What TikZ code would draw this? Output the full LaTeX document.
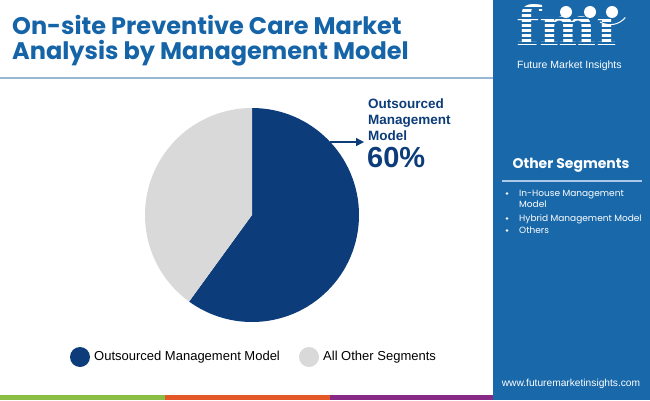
\documentclass[tikz,border=0pt]{standalone}
\usepackage{fontspec}
\usepackage{xcolor}
\usepackage{tikz}
\usetikzlibrary{arrows.meta}
\setmainfont{Liberation Sans}
\newfontfamily\popfont{Poppins}
\newfontfamily\logofont{DejaVu Serif}
\definecolor{fmiblue}{RGB}{24,104,170}
\definecolor{titleblue}{RGB}{22,100,168}
\definecolor{slicedark}{RGB}{12,61,122}
\definecolor{slicegray}{RGB}{217,217,217}
\definecolor{rulegray}{RGB}{150,182,210}
\definecolor{barlight}{RGB}{170,200,232}
\definecolor{stripgreen}{RGB}{139,190,68}
\definecolor{striporange}{RGB}{228,88,40}
\definecolor{strippurple}{RGB}{134,42,134}
\begin{document}
\begin{tikzpicture}[x=1pt,y=1pt]
\useasboundingbox (0,0) rectangle (650,400);
\fill[white] (0,0) rectangle (650,400);
\fill[fmiblue] (493,0) rectangle (650,400);
\fill[stripgreen] (0,0) rectangle (165,5);
\fill[striporange] (165,0) rectangle (330,5);
\fill[strippurple] (330,0) rectangle (493,5);
\draw[rulegray,line width=1.5pt] (0,322) -- (493,322);
\node[anchor=base west,inner sep=0,text=titleblue,font=\popfont\bfseries\fontsize{24}{28}\selectfont] (title1) at (12,366) {On-site Preventive Care Market};
\node[anchor=base west,inner sep=0,text=titleblue,font=\popfont\bfseries\fontsize{24}{28}\selectfont] (title2) at (12,341) {Analysis by Management Model};
\coordinate (c) at (252,185);
\fill[slicedark] (c) -- ++(90:107) arc[start angle=90,end angle=-126,radius=107] -- cycle;
\fill[slicegray] (c) -- ++(-126:107) arc[start angle=-126,end angle=-270,radius=107] -- cycle;
\path (c) ++(43:107) coordinate (a);
\node[anchor=base west,inner xsep=4pt,inner ysep=0,align=left,text=slicedark,font=\bfseries\fontsize{13.5}{16}\selectfont] (lbl) at (364,260) {Outsourced\\Management\\Model};
\node[anchor=base west,inner sep=0,text=slicedark,font=\bfseries\fontsize{29}{30}\selectfont] (pct) at (367,233) {60\%};
\draw[slicedark,line width=1.5pt,-{Triangle[length=8pt,width=8pt]}] (a) -- (a -| lbl.west);
\fill[slicedark] (80,43) circle (10);
\node[anchor=west,inner sep=0,font=\fontsize{13}{14}\selectfont] (leg1) at (94,43) {Outsourced Management Model};
\fill[slicegray] (309,43) circle (10);
\node[anchor=west,inner sep=0,font=\fontsize{13}{14}\selectfont] (leg2) at (323,43) {All Other Segments};
\node[anchor=base,inner sep=0,text=white,font=\popfont\bfseries\fontsize{14}{16}\selectfont] (other) at (571,232) {Other Segments};
\draw[barlight,line width=1.5pt] (502,219) -- (642,219);
\foreach \y in {204,179,167}
	\fill[white] (507,\y+2.5) circle (1.3);
\node[anchor=base west,inner sep=0,text=white,align=left,font=\popfont\fontsize{9}{11}\selectfont] (seg1) at (519,193) {In-House Management\\Model};
\node[anchor=base west,inner sep=0,text=white,font=\popfont\fontsize{9}{11}\selectfont] (seg2) at (519,179) {Hybrid Management Model};
\node[anchor=base west,inner sep=0,text=white,font=\popfont\fontsize{9}{11}\selectfont] (seg3) at (519,167) {Others};
\node[anchor=base,inner sep=0,text=white,font=\fontsize{10.2}{11}\selectfont] (url) at (571,14) {www.futuremarketinsights.com};
\node[anchor=base west,inner sep=0,text depth=0pt,text=white,font=\logofont\bfseries\fontsize{54}{54}\selectfont] (fmi) at (516,355) {fmı};
\foreach \y in {357,362,...,392}
	\draw[fmiblue,line width=1.1pt] (510,\y) -- (635,\y);
\foreach \x in {566,590,612}
	\fill[white] (\x,388) circle (6);
\draw[white,line width=1pt] (600,378) arc[start angle=240,end angle=320,radius=20];
\node[anchor=base west,inner sep=0,text=white,font=\fontsize{10.5}{11}\selectfont] (fminame) at (517,331) {Future Market Insights};
\end{tikzpicture}
\end{document}
